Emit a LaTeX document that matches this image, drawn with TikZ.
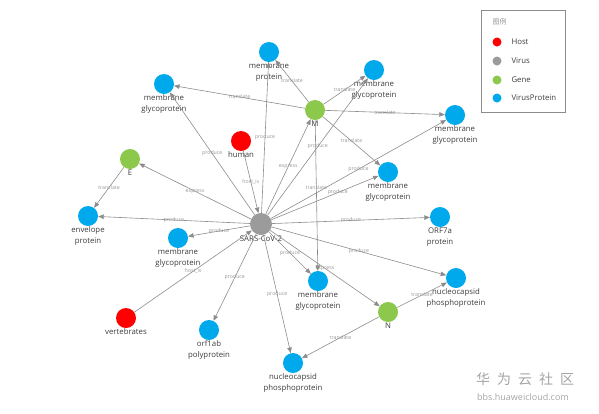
\documentclass[tikz,border=0pt]{standalone}
\usepackage{fontspec}
\setmainfont{Open Sans}
\newfontfamily\cjk{Noto Sans CJK SC}
\usetikzlibrary{arrows.meta}
\definecolor{hostred}{RGB}{255,0,0}
\definecolor{virusgray}{RGB}{155,155,155}
\definecolor{genegreen}{RGB}{140,200,75}
\definecolor{protblue}{RGB}{0,168,236}
\definecolor{txtgray}{RGB}{60,60,60}
\definecolor{edgegray}{RGB}{140,140,140}
\definecolor{relgray}{RGB}{150,150,150}
\definecolor{wmgray}{RGB}{165,165,165}

\begin{document}
\begin{tikzpicture}[
    x=1pt, y=-1pt,
    host/.style={circle, fill=hostred, minimum size=20pt, inner sep=0pt},
    virus/.style={circle, fill=virusgray, minimum size=22pt, inner sep=0pt},
    gene/.style={circle, fill=genegreen, minimum size=20pt, inner sep=0pt},
    vprot/.style={circle, fill=protblue, minimum size=20pt, inner sep=0pt},
    lbl/.style={font=\fontsize{7.8}{10.5}\selectfont, text=txtgray,
                align=center, inner sep=0pt, label distance=0.5pt},
    rel/.style={-{Triangle[length=5.5pt,width=4.5pt]}, draw=edgegray, line width=0.6pt},
    rellbl/.style={font=\fontsize{5.2}{6}\selectfont, text=relgray, inner sep=0pt},
    legtxt/.style={font=\fontsize{7.8}{9}\selectfont, text=txtgray, anchor=west}
  ]
  \useasboundingbox (0,0) rectangle (599,413);

  % nodes
  \node[virus, label={[lbl]below:SARS-CoV-2}] (sars) at (261,224) {};
  \node[host, label={[lbl]below:human}] (human) at (241,141) {};
  \node[host, label={[lbl]below:vertebrates}] (vert) at (126,318) {};
  \node[gene, label={[lbl]below:E}] (geneE) at (130,159) {};
  \node[gene, label={[lbl]below:M}] (geneM) at (315,110) {};
  \node[gene, label={[lbl]below:N}] (geneN) at (388,312) {};
  \node[vprot, label={[lbl]below:{membrane\\protein}}] (mprot) at (269,52) {};
  \node[vprot, label={[lbl]below:{membrane\\glycoprotein}}] (mgA) at (164,84) {};
  \node[vprot, label={[lbl]below:{membrane\\glycoprotein}}] (mgB) at (374,70) {};
  \node[vprot, label={[lbl]below:{membrane\\glycoprotein}}] (mgC) at (455,115) {};
  \node[vprot, label={[lbl]below:{membrane\\glycoprotein}}] (mgD) at (388,172) {};
  \node[vprot, label={[lbl]below:{envelope\\protein}}] (envp) at (88,216) {};
  \node[vprot, label={[lbl]below:{membrane\\glycoprotein}}] (mgE) at (178,238) {};
  \node[vprot, label={[lbl]below:{ORF7a\\protein}}] (orf7a) at (440,217) {};
  \node[vprot, label={[lbl]below:{membrane\\glycoprotein}}] (mgF) at (318,281) {};
  \node[vprot, label={[lbl]below:{nucleocapsid\\phosphoprotein}}] (ncpA) at (456,278) {};
  \node[vprot, label={[lbl]below:{orf1ab\\polyprotein}}] (orf1ab) at (209,330) {};
  \node[vprot, label={[lbl]below:{nucleocapsid\\phosphoprotein}}] (ncpB) at (293,363) {};

  % virus relations
  \draw[rel] (human) -- node[rellbl]{host\_is} (sars);
  \draw[rel] (vert) -- node[rellbl]{host\_is} (sars);
  \draw[rel] (sars) -- node[rellbl]{express} (geneE);
  \draw[rel] (sars) -- node[rellbl]{express} (geneM);
  \draw[rel] (sars) -- node[rellbl]{express} (geneN);
  \draw[rel] (sars) -- node[rellbl]{produce} (mprot);
  \draw[rel] (sars) -- node[rellbl]{produce} (mgA);
  \draw[rel] (sars) -- node[rellbl]{produce} (mgB);
  \draw[rel] (sars) -- node[rellbl]{produce} (mgC);
  \draw[rel] (sars) -- node[rellbl, pos=0.62]{produce} (mgD);
  \draw[rel] (sars) -- node[rellbl]{produce} (envp);
  \draw[rel] (sars) -- node[rellbl]{produce} (mgE);
  \draw[rel] (sars) -- node[rellbl]{produce} (orf7a);
  \draw[rel] (sars) -- node[rellbl]{produce} (mgF);
  \draw[rel] (sars) -- node[rellbl]{produce} (ncpA);
  \draw[rel] (sars) -- node[rellbl]{produce} (orf1ab);
  \draw[rel] (sars) -- node[rellbl]{produce} (ncpB);

  % gene relations
  \draw[rel] (geneE) -- node[rellbl]{translate} (envp);
  \draw[rel] (geneM) -- node[rellbl]{translate} (mprot);
  \draw[rel] (geneM) -- node[rellbl]{translate} (mgA);
  \draw[rel] (geneM) -- node[rellbl]{translate} (mgB);
  \draw[rel] (geneM) -- node[rellbl]{translate} (mgC);
  \draw[rel] (geneM) -- node[rellbl]{translate} (mgD);
  \draw[rel] (geneM) -- node[rellbl, pos=0.45]{translate} (mgF);
  \draw[rel] (geneN) -- node[rellbl]{translate} (ncpA);
  \draw[rel] (geneN) -- node[rellbl]{translate} (ncpB);

  % legend
  \draw[draw=edgegray, line width=0.5pt] (481,10) rectangle (565,112);
  \node[legtxt, text=relgray, font=\cjk\fontsize{7}{8}\selectfont] (legtitle) at (489,22) {图例};
  \fill[hostred] (497,42) circle (4.5pt);
  \node[legtxt] (leghost) at (508,42) {Host};
  \fill[virusgray] (497,61) circle (4.5pt);
  \node[legtxt] (legvirus) at (508,61) {Virus};
  \fill[genegreen] (497,80) circle (4.5pt);
  \node[legtxt] (leggene) at (508,80) {Gene};
  \fill[protblue] (497,98) circle (4.5pt);
  \node[legtxt] (legprot) at (508,98) {VirusProtein};

  % watermark
  \node[anchor=west, inner sep=0pt, text=wmgray, font=\cjk\fontsize{14}{14}\selectfont]
    (wmcn) at (476,379) {华\hspace{7pt}为\hspace{7pt}云\hspace{7pt}社\hspace{7pt}区};
  \node[anchor=west, inner sep=0pt, text=wmgray, font=\fontsize{9}{10}\selectfont]
    (wmurl) at (477,397) {bbs.huaweicloud.com};
\end{tikzpicture}
\end{document}
